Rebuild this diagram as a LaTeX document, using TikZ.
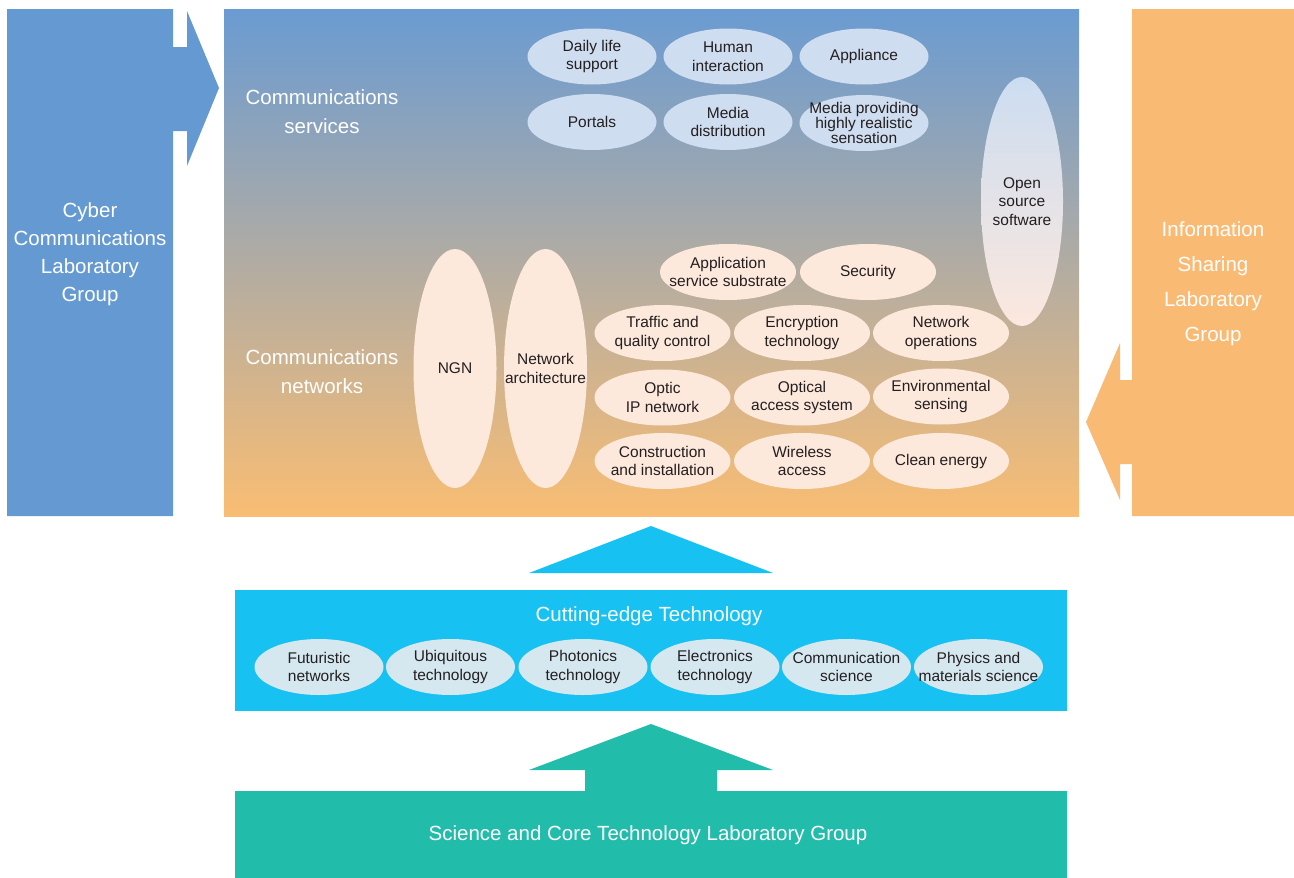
\documentclass[tikz,border=0pt]{standalone}
\usepackage{fontspec}
\setmainfont{Liberation Sans}
\usetikzlibrary{shapes.geometric}
\definecolor{cyberblue}{HTML}{6599D2}
\definecolor{mainTop}{HTML}{6A9BD2}
\definecolor{mainBot}{HTML}{F9BD73}
\definecolor{infoorange}{HTML}{F9BA74}
\definecolor{cutcyan}{HTML}{17C1F1}
\definecolor{cutell}{HTML}{D5E8F0}
\definecolor{coreteal}{HTML}{22BCAB}
\definecolor{svcell}{HTML}{CFDDF0}
\definecolor{netell}{HTML}{FDE8DC}
\definecolor{osTop}{HTML}{CCDDF1}
\definecolor{osBot}{HTML}{FCE8DE}
\definecolor{txt}{HTML}{231F20}
\tikzset{
  ell/.style={ellipse, inner xsep=-45pt, inner ysep=-30pt, align=center, text=txt, draw=none,
    font=\fontsize{15.5}{18.5}\selectfont},
  svcellipse/.style={ell, fill=svcell, minimum width=129pt, minimum height=56pt},
  netellipse/.style={ell, fill=netell, minimum width=136pt, minimum height=56pt},
  tallellipse/.style={ell, fill=netell, minimum width=83pt, minimum height=239pt},
  cutellipse/.style={ell, fill=cutell, minimum width=129pt, minimum height=56pt},
  heading/.style={align=center, text=white, inner sep=0pt},
}
\begin{document}
\begin{tikzpicture}[x=1pt,y=-1pt]
\useasboundingbox (0,0) rectangle (1294,878);
% left block with arrow
\fill[cyberblue] (7,9) -- (173,9) -- (173,47) -- (187,47) -- (187,11) -- (219,88)
  -- (187,166) -- (187,131) -- (173,131) -- (173,516) -- (7,516) -- cycle;
\node[heading, font=\fontsize{20.5}{28}\selectfont] (cyber) at (90,254)
  {Cyber\\Communications\\Laboratory\\Group};
% right block with arrow
\fill[infoorange] (1132,9) -- (1294,9) -- (1294,516) -- (1132,516) -- (1132,464)
  -- (1120,464) -- (1120,500) -- (1086,422) -- (1120,343) -- (1120,380) -- (1132,380) -- cycle;
\node[heading, font=\fontsize{20.5}{35}\selectfont] (info) at (1213,284)
  {Information\\Sharing\\Laboratory\\Group};
% main gradient box
\shade[top color=mainTop, bottom color=mainBot] (224,9) rectangle (1079,516);
\node[heading, font=\fontsize{20.5}{29}\selectfont] (svc) at (322,112)
  {Communications\\services};
\node[heading, font=\fontsize{20.5}{29}\selectfont] (netw) at (322,372)
  {Communications\\networks};
% services ellipses
\node[svcellipse] (daily) at (592,56.5) {Daily life\\support};
\node[svcellipse] (human) at (728,56.5) {Human\\interaction};
\node[svcellipse] (appl) at (864,56.5) {Appliance};
\node[svcellipse] (portals) at (592,122) {Portals};
\node[svcellipse] (mediad) at (728,122) {Media\\distribution};
\node[svcellipse, font=\fontsize{15.5}{15}\selectfont] (mediap) at (864,123)
  {Media providing\\highly realistic\\sensation};
% open source
\node[ell, minimum width=82pt, minimum height=249pt, top color=osTop, bottom color=osBot]
  (oss) at (1022,201.5) {Open\\source\\software};
% networks ellipses
\node[tallellipse] (ngn) at (455,368.5) {NGN};
\node[tallellipse] (arch) at (545.5,368.5) {Network\\architecture};
\node[netellipse] (appsub) at (728,272) {Application\\service substrate};
\node[netellipse] (sec) at (868,272) {Security};
\node[netellipse] (traffic) at (662.5,333) {Traffic and\\quality control};
\node[netellipse] (encr) at (802,333) {Encryption\\technology};
\node[netellipse] (netops) at (941,333) {Network\\operations};
\node[netellipse] (optic) at (662.5,397.5) {Optic\\IP network};
\node[netellipse] (optacc) at (802,397.5) {Optical\\access system};
\node[netellipse] (env) at (941,396.5) {Environmental\\sensing};
\node[netellipse] (constr) at (662.5,461) {Construction\\and installation};
\node[netellipse] (wless) at (802,461) {Wireless\\access};
\node[netellipse] (clean) at (941,461) {Clean energy};
% cyan triangle
\fill[cutcyan] (529,573) -- (651,526) -- (773,573) -- cycle;
% cutting-edge box
\fill[cutcyan] (235,590) rectangle (1067,711);
\node[heading, font=\fontsize{20.5}{24}\selectfont] (cut) at (649,616) {Cutting-edge Technology};
\node[cutellipse] (futur) at (319,667) {Futuristic\\networks};
\node[cutellipse] (ubiq) at (450.5,667) {Ubiquitous\\technology};
\node[cutellipse] (phot) at (583,667) {Photonics\\technology};
\node[cutellipse] (elec) at (715,667) {Electronics\\technology};
\node[cutellipse] (comms) at (846.5,667) {Communication\\science};
\node[cutellipse] (phys) at (978.5,667) {Physics and\\materials science};
% teal arrow and box
\fill[coreteal] (235,791) -- (585,791) -- (585,770) -- (529,770) -- (651,724) -- (773,770)
  -- (717,770) -- (717,791) -- (1067,791) -- (1067,878) -- (235,878) -- cycle;
\node[heading, font=\fontsize{20.5}{24}\selectfont] (core) at (648,835)
  {Science and Core Technology Laboratory Group};
\end{tikzpicture}
\end{document}
